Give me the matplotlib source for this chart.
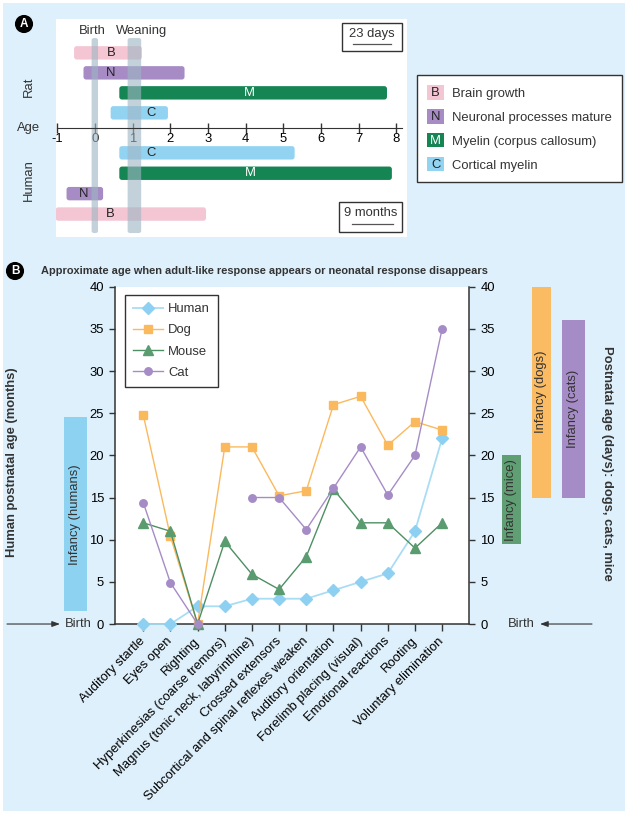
import matplotlib
matplotlib.use("Agg")
import matplotlib.pyplot as plt
import matplotlib.transforms as mtransforms
import numpy as np
from matplotlib import font_manager
from matplotlib.legend_handler import HandlerBase
from matplotlib.patches import FancyBboxPatch, Rectangle
from matplotlib.text import Text

# ---- panel A: developmental timelines ----
STAGE_KEYS = ["B", "N", "M", "C"]
STAGE_NAMES = ["Brain growth", "Neuronal processes mature", "Myelin (corpus callosum)", "Cortical myelin"]
STAGE_COLORS = {"B": "#f4c6d4", "N": "#a68bc5", "M": "#148553", "C": "#92d3f2"}
STAGE_TEXT = {"B": "#222222", "N": "#222222", "M": "#ffffff", "C": "#222222"}

RAT_ORDER = ["B", "N", "M", "C"]          # top to bottom
RAT_START = [-0.55, -0.30, 0.65, 0.42]
RAT_END = [1.25, 2.38, 7.75, 1.94]
RAT_LETTER_X = [0.43, 0.42, 4.11, 1.49]
HUMAN_ORDER = ["C", "M", "N", "B"]        # top to bottom
HUMAN_START = [0.65, 0.65, -0.75, -1.04]
HUMAN_END = [5.30, 7.88, 0.22, 2.95]
HUMAN_LETTER_X = [1.49, 4.13, -0.29, 0.41]

MILESTONES = ["Birth", "Weaning"]
MILESTONE_X = [0.0, 1.05]
MILESTONE_W = [0.17, 0.36]
MILESTONE_LABEL_X = [-0.06, 1.25]
AGE_TICKS = list(range(-1, 9))

# ---- panel B: reflex milestones ----
RESPONSES = ["Auditory startle", "Eyes open", "Righting", "Hyperkinesias (coarse tremors)",
             "Magnus (tonic neck, labyrinthine)", "Crossed extensors",
             "Subcortical and spinal reflexes weaken", "Auditory orientation",
             "Forelimb placing (visual)", "Emotional reactions", "Rooting", "Voluntary elimination"]
HUMAN = [0, 0, 2.1, 2.1, 3, 3, 3, 4, 5, 6, 11, 22]
DOG = [24.8, 10.4, 0, 21, 21, 15.2, 15.8, 26, 27, 21.2, 24, 23]
MOUSE = [12, 11, 0, 9.8, 5.9, 4.1, 8, 16, 12, 12, 9, 12]
CAT = [14.4, 4.9, 0, np.nan, 15, 15, 11.2, 16.1, 21, 15.3, 20, 35]

INFANCY_LABELS = ["Infancy (humans)", "Infancy (mice)", "Infancy (dogs)", "Infancy (cats)"]
INFANCY_LOW = [1.5, 9.5, 15, 15]
INFANCY_HIGH = [24.5, 20, 40, 36]
INFANCY_COLORS = ["#8dd2f1", "#5f9f73", "#fbbb62", "#a68cc6"]
INFANCY_XSPAN = [(0.1017, 0.1378), (0.7976, 0.8283), (0.8453, 0.8760), (0.8930, 0.9300)]

BG = "#def0fb"
DARK = "#333333"

plt.rcParams["font.family"] = ["Liberation Sans", "DejaVu Sans"]
plt.rcParams["font.size"] = 9.4
plt.rcParams["text.color"] = DARK
plt.rcParams["axes.unicode_minus"] = False

installed = {f.name for f in font_manager.fontManager.ttflist}
TITLE_FAMILY = ["Liberation Sans Narrow"] if "Liberation Sans Narrow" in installed else ["Liberation Sans"]


class LetterKey:
    def __init__(self, color, letter, text_color):
        self.color, self.letter, self.text_color = color, letter, text_color


class LetterHandler(HandlerBase):
    def create_artists(self, legend, orig, xdescent, ydescent, width, height, fontsize, trans):
        rect = Rectangle((-xdescent, -ydescent), width, height, facecolor=orig.color,
                         edgecolor="none", transform=trans)
        txt = Text(-xdescent + width / 2, -ydescent + height / 2 - 0.5, orig.letter, ha="center",
                   va="center", fontsize=fontsize, color=orig.text_color, transform=trans)
        return [rect, txt]


def rounded_bar(ax, x0, x1, y0, y1, color, aspect, radius=0.07, alpha=1.0, z=2):
    p = FancyBboxPatch((x0, y0), x1 - x0, y1 - y0,
                       boxstyle=f"round,pad=0,rounding_size={radius}",
                       mutation_aspect=aspect, fc=color, ec="none", alpha=alpha, zorder=z)
    ax.add_patch(p)


fig = plt.figure(figsize=(6.29, 8.14), dpi=100, facecolor="white")
fig.add_artist(Rectangle((3 / 629, 3 / 814), 622 / 629, 808 / 814, transform=fig.transFigure,
                         facecolor=BG, edgecolor="none", zorder=-10))

# ================= Panel A =================
axA = fig.add_axes([0.0890, 0.7088, 0.5580, 0.2678])
axA.set_facecolor("white")
axA.set_xlim(-1.03, 8.28)
axA.set_ylim(-5.45, 5.45)
W, H = fig.get_size_inches() * fig.dpi
px_x = 0.5580 * W / (8.28 + 1.03)
px_y = 0.2678 * H / 10.9
aspect = px_x / px_y
bar_h = 0.67

rat_y = 0.76 + np.arange(len(RAT_ORDER))[::-1] * 1.0
human_y = -(1.24 + np.arange(len(HUMAN_ORDER)) * 1.02)

for keys, starts, ends, lxs, ys in [(RAT_ORDER, RAT_START, RAT_END, RAT_LETTER_X, rat_y),
                                    (HUMAN_ORDER, HUMAN_START, HUMAN_END, HUMAN_LETTER_X, human_y)]:
    for k, s, e, lx, y in zip(keys, starts, ends, lxs, ys):
        rounded_bar(axA, s, e, y - bar_h / 2, y + bar_h / 2, STAGE_COLORS[k], aspect)
        axA.text(lx, y, k, ha="center", va="center", color=STAGE_TEXT[k], zorder=6)

for name, mx, mw, lx in zip(MILESTONES, MILESTONE_X, MILESTONE_W, MILESTONE_LABEL_X):
    rounded_bar(axA, mx - mw / 2, mx + mw / 2, -5.25, 4.5, "#9fb6c4", aspect,
                radius=0.06, alpha=0.62, z=4)
    axA.text(lx, 4.87, name, ha="center", va="center")

for sp in ["top", "left", "right"]:
    axA.spines[sp].set_visible(False)
axA.spines["bottom"].set_position(("data", 0))
axA.spines["bottom"].set_bounds(-1, 8.15)
axA.spines["bottom"].set_color(DARK)
axA.spines["bottom"].set_zorder(5)
axA.set_xticks(AGE_TICKS)
axA.tick_params(axis="x", direction="inout", length=7, width=1, color=DARK, pad=0, labelsize=9.4)
axA.set_yticks([])
for lbl in axA.get_xticklabels():
    lbl.set_zorder(6)

axA.text(-1.76, 0, "Age", ha="center", va="center", clip_on=False)
axA.text(-1.76, 2.05, "Rat", ha="center", va="center", rotation=90, clip_on=False)
axA.text(-1.76, -2.6, "Human", ha="center", va="center", rotation=90, clip_on=False)

# scale boxes
for (x0, y0, w, h), label, ty, ly, lx0, lx1 in [((0.815, 0.853, 0.171, 0.129), "23 days", 0.931, 0.885, 0.846, 0.954),
                                                ((0.806, 0.023, 0.180, 0.138), "9 months", 0.110, 0.060, 0.843, 0.960)]:
    axA.add_patch(Rectangle((x0, y0), w, h, transform=axA.transAxes, fill=False,
                            ec=DARK, lw=1, zorder=6))
    axA.text(x0 + w / 2, ty, label, transform=axA.transAxes, ha="center", va="center")
    axA.plot([lx0, lx1], [ly, ly], transform=axA.transAxes, color="#555555", lw=0.9)

keys = [LetterKey(STAGE_COLORS[k], k, STAGE_TEXT[k]) for k in STAGE_KEYS]
legA = fig.legend(keys, STAGE_NAMES, handler_map={LetterKey: LetterHandler()},
                  loc="upper left", bbox_to_anchor=(0.663, 0.9079), fancybox=False,
                  edgecolor=DARK, framealpha=1, handlelength=1.25, handleheight=1.3,
                  handletextpad=0.6, labelspacing=0.72, borderpad=0.8, borderaxespad=0,
                  fontsize=9.4)
legA.get_frame().set_linewidth(1)

# ================= Panel B =================
axB = fig.add_axes([0.1828, 0.2334, 0.5633, 0.4144])
axB.set_facecolor("white")
x = np.arange(len(RESPONSES))
series = [("Human", HUMAN, "D", 6.3, "#8ed0f1", "#a9ddf4", 1.3),
          ("Dog", DOG, "s", 5.5, "#fbb95e", "#fbb95e", 1.0),
          ("Mouse", MOUSE, "^", 7.0, "#5a9c6f", "#4e8f63", 1.0),
          ("Cat", CAT, "o", 5.4, "#a68cc6", "#a68cc6", 1.0)]
for name, vals, mk, ms, mc, lc, lw in series:
    axB.plot(x, vals, color=lc, lw=lw, marker=mk, markersize=ms, markerfacecolor=mc,
             markeredgecolor=mc, label=name, clip_on=False, zorder=3)

axB.set_xlim(-1.04, 12)
axB.set_ylim(0, 40)
axB.set_yticks(range(0, 41, 5))
axB.set_xticks(x)
axB.set_xticklabels(RESPONSES, rotation=45, ha="right", va="center", rotation_mode="anchor")
offset = mtransforms.ScaledTranslation(3 / 100, 0, fig.dpi_scale_trans)
for lbl in axB.get_xticklabels():
    lbl.set_transform(lbl.get_transform() + offset)
axB.tick_params(axis="x", length=5, width=1, color=DARK, pad=6, labelsize=9.4)
axB.tick_params(axis="y", length=4.3, width=1, color=DARK, pad=3.6, labelsize=9.4,
                right=True, labelright=True)
axB.spines["top"].set_visible(False)
for sp in ["left", "right", "bottom"]:
    axB.spines[sp].set_color(DARK)
    axB.spines[sp].set_linewidth(1.1)

legB = axB.legend(loc="upper left", bbox_to_anchor=(0.028, 0.975), fancybox=False,
                  edgecolor=DARK, framealpha=1, handlelength=2.3, borderpad=0.6,
                  labelspacing=0.7, handletextpad=0.4, borderaxespad=0)
legB.get_frame().set_linewidth(1)

trans_b = mtransforms.blended_transform_factory(fig.transFigure, axB.transData)
for label, lo, hi, col, (fx0, fx1) in zip(INFANCY_LABELS, INFANCY_LOW, INFANCY_HIGH,
                                           INFANCY_COLORS, INFANCY_XSPAN):
    fig.add_artist(Rectangle((fx0, lo), fx1 - fx0, hi - lo, transform=trans_b,
                             facecolor=col, edgecolor="none"))
    fig.text((fx0 + fx1) / 2, (lo + hi) / 2, label, transform=trans_b, rotation=90,
             ha="center", va="center", color=DARK)

# birth arrows at zero
fig.text(65 / 629, 0, "Birth", transform=trans_b, ha="left", va="center")
fig.text(508 / 629, 0, "Birth", transform=trans_b, ha="left", va="center")
arrow = dict(arrowstyle="-|>,head_length=0.5,head_width=0.18", color=DARK, lw=0.8,
             shrinkA=0, shrinkB=0)
axB.annotate("", xy=(60 / 629, 0), xytext=(7 / 629, 0), xycoords=trans_b,
             textcoords=trans_b, arrowprops=arrow, annotation_clip=False)
axB.annotate("", xy=(540 / 629, 0), xytext=(592 / 629, 0), xycoords=trans_b,
             textcoords=trans_b, arrowprops=arrow, annotation_clip=False)

fig.text(0.019, 0.4324, "Human postnatal age (months)", rotation=90, ha="center",
         va="center", fontweight="bold")
fig.text(0.9646, 0.431, "Postnatal age (days): dogs, cats, mice", rotation=270, ha="center",
         va="center", fontweight="bold")

# panel letters and title
for letter, (px, py) in zip(["A", "B"], [(24, 24), (15, 271)]):
    fig.text(px / 629, 1 - py / 814, letter, ha="center", va="center", color="white",
             fontweight="bold", fontsize=8.5,
             bbox=dict(boxstyle="circle,pad=0.2", fc="black", ec="black"))

title = fig.text(41 / 629, 1 - 271 / 814,
                 "Approximate age when adult-like response appears or neonatal response disappears",
                 ha="left", va="center", fontweight="bold", fontsize=9.4, family=TITLE_FAMILY)
fig.canvas.draw()
tw = title.get_window_extent().width
title.set_fontsize(min(9.4, 9.4 * 440 / tw))

fig.savefig("out.png", dpi=100, facecolor=fig.get_facecolor())
